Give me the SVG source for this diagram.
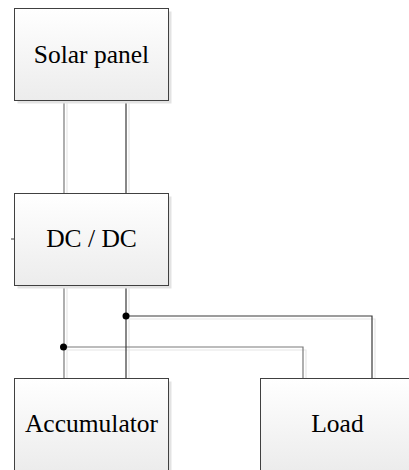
<svg xmlns="http://www.w3.org/2000/svg" width="409" height="470" viewBox="0 0 409 470">
<defs>
<linearGradient id="g" x1="0" y1="0" x2="0" y2="1">
<stop offset="0" stop-color="#ffffff"/>
<stop offset="1" stop-color="#ececec"/>
</linearGradient>
</defs>
<style>
.sh{fill:#e3e3e3;stroke:none}
.box{fill:url(#g);stroke:#404040;stroke-width:1}
.t{font-size:25.5px;fill:#000;text-anchor:middle}
.w{fill:none;stroke-width:1.2}
.ws{fill:none;stroke:#e6e6e6;stroke-width:1.2}
.a{stroke:#7a7a7a}
.b{stroke:#3a3a3a}
.dot{fill:#000}
</style>
<g id="connectors">
<path class="ws" d="M67 103V196M129 103V196M67 288V381M129 288V381M129 319H375V381M67 350H306V381"/>
<path class="w a" d="M64 100V193M64 285V378M64 347H303V378"/>
<path class="w b" d="M126 100V193M126 285V378M126 316H372V378M11 239H14.5"/>
<circle class="dot" cx="126" cy="316" r="3.5"/>
<circle class="dot" cx="63.5" cy="347" r="3.5"/>
</g>
<g id="solar">
<rect class="sh" x="17.5" y="11.5" width="154" height="92"/>
<rect class="box" x="14.5" y="8.5" width="154" height="92"/>
<text class="t" font-family="Liberation Serif, Times New Roman, DejaVu Serif, serif" x="91.5" y="63">Solar panel</text>
</g>
<g id="dcdc">
<rect class="sh" x="17.5" y="196.5" width="154" height="92"/>
<rect class="box" x="14.5" y="193.5" width="154" height="92"/>
<text class="t" font-family="Liberation Serif, Times New Roman, DejaVu Serif, serif" x="91.5" y="247">DC / DC</text>
</g>
<g id="accumulator">
<rect class="sh" x="17.5" y="381.5" width="154" height="92"/>
<rect class="box" x="14.5" y="378.5" width="154" height="92"/>
<text class="t" font-family="Liberation Serif, Times New Roman, DejaVu Serif, serif" x="91.5" y="432">Accumulator</text>
</g>
<g id="load">
<rect class="sh" x="263.5" y="381.5" width="154" height="92"/>
<rect class="box" x="260.5" y="378.5" width="154" height="92"/>
<text class="t" font-family="Liberation Serif, Times New Roman, DejaVu Serif, serif" x="337.5" y="432">Load</text>
</g>
</svg>
